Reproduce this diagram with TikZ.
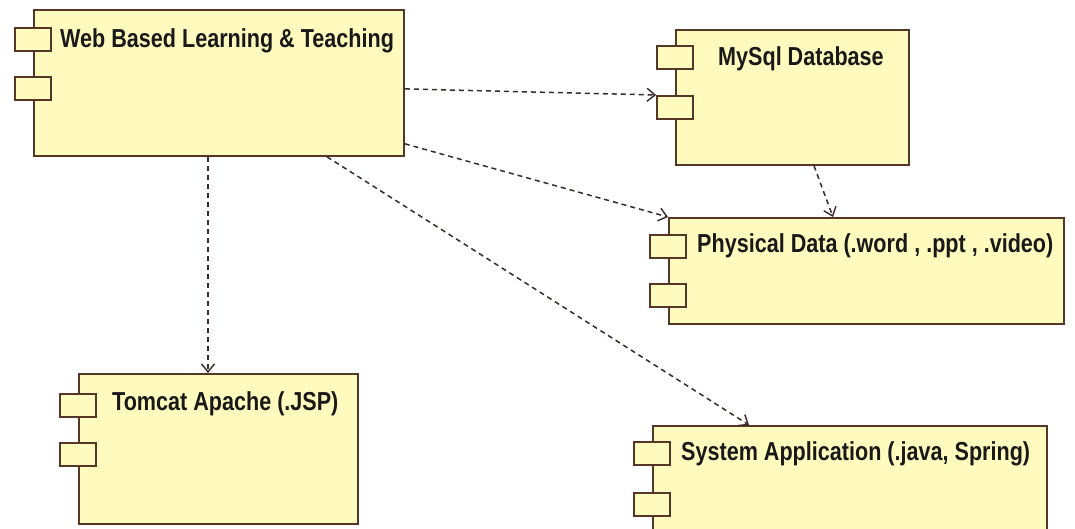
\documentclass[tikz,border=0pt]{standalone}
\usepackage{fontspec}
\setmainfont{Liberation Sans}
\newfontfamily\complbl{Liberation Sans}[FakeStretch=0.83]
\usetikzlibrary{arrows.meta}
\definecolor{compfill}{HTML}{FFFBBE}
\definecolor{compline}{HTML}{553627}
\definecolor{depline}{HTML}{3A2A2A}
\tikzset{
  comp/.style={draw=compline, fill=compfill, line width=1.8pt, rectangle, inner sep=0pt, anchor=north west},
  port/.style={draw=compline, fill=compfill, line width=1.8pt, rectangle, inner sep=0pt, minimum width=36pt, minimum height=23pt, anchor=north},
  lbl/.style={anchor=base west, inner sep=0pt, text=black!90, font=\complbl\bfseries\fontsize{26}{30}\selectfont},
  dep/.style={draw=depline, line width=1.5pt, dash pattern=on 5pt off 4pt, -{Straight Barb[length=8pt,width=13pt,line width=1.4pt]}}
}
\begin{document}
\begin{tikzpicture}[x=1pt,y=-1pt]
\fill[white] (0,0) rectangle (1075,528);
\useasboundingbox (0,0) rectangle (1075,528);

% Web Based Learning & Teaching
\node[comp, minimum width=370pt, minimum height=146pt] (web) at (33,9) {};
\node[port] (webp1) at ([yshift=-18pt]web.north west) {};
\node[port] (webp2) at ([yshift=-67pt]web.north west) {};
\node[lbl] (webt) at ([xshift=27pt,yshift=-38pt]web.north west) {Web Based Learning \& Teaching};

% MySql Database
\node[comp, minimum width=233pt, minimum height=135pt] (mysql) at (675,29) {};
\node[port] (mysqlp1) at ([yshift=-16pt]mysql.north west) {};
\node[port] (mysqlp2) at ([yshift=-66pt]mysql.north west) {};
\node[lbl] (mysqlt) at ([xshift=43pt,yshift=-36pt]mysql.north west) {MySql Database};

% Physical Data
\node[comp, minimum width=395pt, minimum height=106pt] (phys) at (668,217) {};
\node[port] (physp1) at ([yshift=-17pt]phys.north west) {};
\node[port] (physp2) at ([yshift=-66pt]phys.north west) {};
\node[lbl] (physt) at ([xshift=29pt,yshift=-35pt]phys.north west) {Physical Data (.word , .ppt , .video)};

% System Application
\node[comp, minimum width=394pt, minimum height=125pt] (sys) at (652,425) {};
\node[port] (sysp1) at ([yshift=-16pt]sys.north west) {};
\node[port] (sysp2) at ([yshift=-67pt]sys.north west) {};
\node[lbl] (syst) at ([xshift=29pt,yshift=-35pt]sys.north west) {System Application (.java, Spring)};

% Tomcat Apache
\node[comp, minimum width=279pt, minimum height=150pt] (tomcat) at (78,373) {};
\node[port] (tomcatp1) at ([yshift=-20pt]tomcat.north west) {};
\node[port] (tomcatp2) at ([yshift=-69pt]tomcat.north west) {};
\node[lbl] (tomcatt) at ([xshift=34pt,yshift=-37pt]tomcat.north west) {Tomcat Apache (.JSP)};

% dependencies
\draw[dep] ([yshift=-6pt]web.east) -- (mysqlp2.north west);
\draw[dep] ([yshift=13pt]web.south east) -- (phys.north west);
\draw[dep] ([xshift=294pt]web.south west) -- ([xshift=97pt]sys.north west);
\draw[dep] ([xshift=175pt]web.south west) -- ([xshift=130pt]tomcat.north west);
\draw[dep] ([xshift=139pt]mysql.south west) -- ([xshift=165pt]phys.north west);
\end{tikzpicture}
\end{document}
